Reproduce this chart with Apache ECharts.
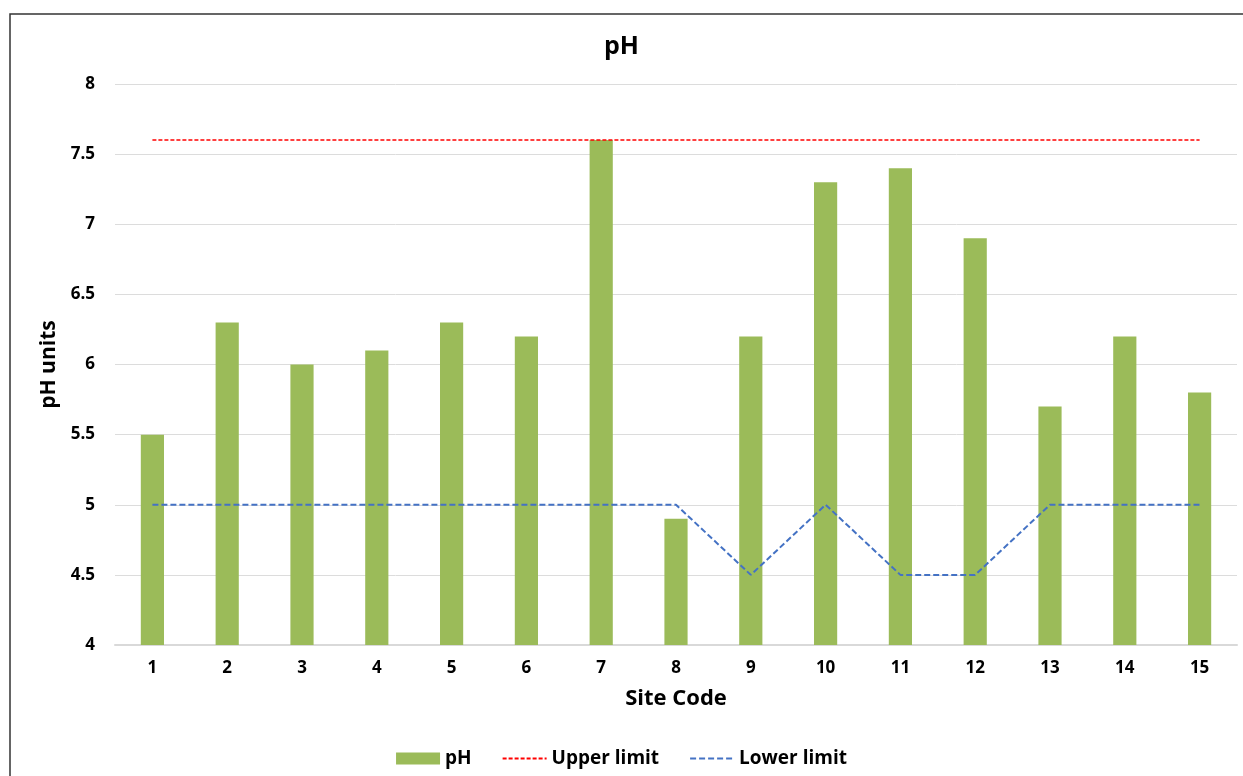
<!DOCTYPE html>
<html><head><meta charset="utf-8">
<script src="https://cdn.jsdelivr.net/npm/echarts@6/dist/echarts.min.js"></script>
<style>html,body{margin:0;padding:0;background:#fff}#c{width:1243px;height:776px}</style>
</head><body><div id="c"></div>
<script>
const categories = ['1','2','3','4','5','6','7','8','9','10','11','12','13','14','15'];
const phValues = [5.5, 6.3, 6.0, 6.1, 6.3, 6.2, 7.6, 4.9, 6.2, 7.3, 7.4, 6.9, 5.7, 6.2, 5.8];
const upperLimit = [7.6, 7.6, 7.6, 7.6, 7.6, 7.6, 7.6, 7.6, 7.6, 7.6, 7.6, 7.6, 7.6, 7.6, 7.6];
const lowerLimit = [5, 5, 5, 5, 5, 5, 5, 5, 4.5, 5, 4.5, 4.5, 5, 5, 5];
const yTicks = { min: 4, max: 8, interval: 0.5 };

const F = '"Open Sans", sans-serif';
const chart = echarts.init(document.getElementById('c'));
chart.setOption({
  animation: false,
  title: { text: 'pH', left: 'center', top: 29, textStyle: { fontFamily: F, fontSize: 25, fontWeight: 'bold', color: '#000' } },
  grid: { left: 115, right: 6, top: 84, bottom: 131, containLabel: false },
  graphic: [{ type: 'rect', shape: { x: 10, y: 14, width: 1300, height: 800 }, style: { fill: 'none', stroke: '#333', lineWidth: 1.5 }, silent: true }],
  legend: {
    bottom: 3, left: 'center', itemGap: 30, itemWidth: 44, itemHeight: 12,
    textStyle: { fontFamily: F, fontSize: 19, fontWeight: 'bold', color: '#000' },
    data: [
      { name: 'pH', icon: 'rect' },
      { name: 'Upper limit', itemStyle: { opacity: 0 } },
      { name: 'Lower limit', itemStyle: { opacity: 0 } }
    ]
  },
  xAxis: {
    type: 'category', data: categories,
    name: 'Site Code', nameLocation: 'middle', nameGap: 43,
    nameTextStyle: { fontFamily: F, fontSize: 22, fontWeight: 'bold', color: '#000' },
    axisLine: { lineStyle: { color: '#d9d9d9', width: 2 } },
    axisTick: { show: false },
    axisLabel: { fontFamily: F, fontSize: 17, fontWeight: 'bold', color: '#000', margin: 15 }
  },
  yAxis: {
    type: 'value', min: yTicks.min, max: yTicks.max, interval: yTicks.interval,
    name: 'pH units', nameLocation: 'middle', nameGap: 51, nameRotate: 90,
    nameTextStyle: { fontFamily: F, fontSize: 21, fontWeight: 'bold', color: '#000' },
    axisLine: { show: false }, axisTick: { show: false },
    splitLine: { lineStyle: { color: '#dcdcdc', width: 1 } },
    axisLabel: { fontFamily: F, fontSize: 17, fontWeight: 'bold', color: '#000', margin: 20 }
  },
  series: [
    { name: 'pH', type: 'bar', data: phValues, barWidth: '31%', itemStyle: { color: '#9BBB59' } },
    { name: 'Upper limit', type: 'line', data: upperLimit, symbol: 'none', lineStyle: { color: '#FF0000', width: 1.5, type: [4, 2] }, itemStyle: { color: '#FF0000' } },
    { name: 'Lower limit', type: 'line', data: lowerLimit, symbol: 'none', lineStyle: { color: '#4472C4', width: 2, type: [6, 3] }, itemStyle: { color: '#4472C4' } }
  ]
});
</script></body></html>
